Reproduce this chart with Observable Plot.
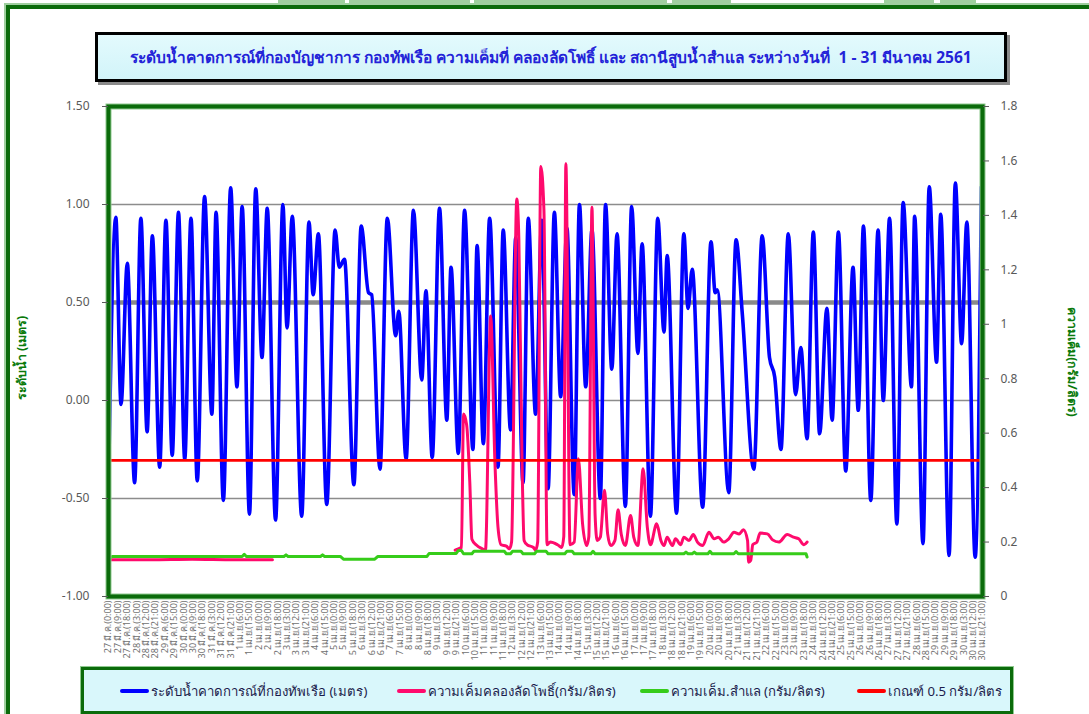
<!DOCTYPE html>
<html><head><meta charset="utf-8">
<script src="https://cdn.jsdelivr.net/npm/d3@7"></script>
<script src="https://cdn.jsdelivr.net/npm/@observablehq/plot@0.6"></script>
<style>
html,body{margin:0;padding:0;background:#fff;}
body{width:1089px;height:714px;overflow:hidden;position:relative;font-family:Tahoma,"Noto Sans","DejaVu Sans",sans-serif;}
#chart{position:absolute;left:0;top:0;}
.box{position:absolute;box-sizing:border-box;}
#outer{left:6px;top:5px;width:1200px;height:900px;border:4px solid #0b6b0b;box-shadow:-2px -2px 0 #9fcf9f;}
#title{left:95px;top:32px;width:912px;height:50px;border:3px solid #000;box-shadow:3px 3px 0 #8a8a8a;background:linear-gradient(#e3fafd,#d2f4f9);
  color:#2323d8;font-weight:bold;font-size:15.5px;display:flex;align-items:center;justify-content:center;}
#legend{left:81px;top:667px;width:932px;height:47px;border:3px solid #0b6b0b;box-shadow:0 0 0 1px #8fc98f;background:#d9f7fb;}
.item{position:absolute;top:12px;font-size:13.2px;color:#1c1c4c;white-space:nowrap;line-height:18px;}
.sw{display:inline-block;width:29px;height:4px;border-radius:2px;vertical-align:middle;margin-right:2px;position:relative;top:-1px;}
.ytitle{position:absolute;color:#0b7a0b;font-weight:bold;font-size:12.5px;white-space:nowrap;}
.strip{position:absolute;top:0;height:5px;background:#9fcf9f;}
</style></head><body>
<div class="strip" style="left:278px;width:67px"></div>
<div class="strip" style="left:349px;width:121px"></div>
<div class="strip" style="left:474px;width:193px"></div>
<div class="strip" style="left:672px;width:59px"></div>
<div class="strip" style="left:735px;width:147px;top:3px;height:2px"></div>
<div class="strip" style="left:884px;width:50px"></div>
<div class="strip" style="left:940px;width:36px"></div>
<div class="strip" style="left:979px;width:26px;top:3px;height:2px"></div>
<div class="strip" style="left:1009px;width:80px;top:3px;height:2px"></div>
<div id="outer" class="box"></div>
<div id="chart"></div>
<div id="title" class="box">ระดับน้ำคาดการณ์ที่กองบัญชาการ กองทัพเรือ ความเค็มที่ คลองลัดโพธิ์ และ สถานีสูบน้ำสำแล ระหว่างวันที่&nbsp; 1 - 31 มีนาคม 2561</div>
<div id="legend" class="box"></div>
<div class="ytitle" id="ylt" style="left:22px;top:358px;transform:translate(-50%,-50%) rotate(-90deg);">ระดับน้ำ (เมตร)</div>
<div class="ytitle" id="yrt" style="left:1072px;top:362px;transform:translate(-50%,-50%) rotate(90deg);">ความเค็ม(กรัม/ลิตร)</div>
<script>
// ---- data (hours from 27 มี.ค. 0:00) ----
const blueHours = [0,7,12,18,25,31,37,42,49,55,61,67,73,79,85,92,99,103,110,117,123,128,135,141,147,152,160,167,171,176,185,192,196,201,209,217,221,226,235,242,249,252,260,267,275,278,285,292,300,304,310,317,324,328,335,341,349,353,359,365,373,378,385,390,397,402,409,415,421,427,433,439,446,451,457,463,471,476,482,487,495,501,507,511,519,526,532,535,544,551,555,559,569,577,581,583,594,601,607,618,626,633,638,644,651,658,663,669,675,681,688,693,699,706,713,718,723,730,737,742,748,755,761,769,772,780,786,793,797,805,811,817,822,830,836];
const blueLevel = [-0.43,0.935,-0.02,0.70,-0.42,0.93,-0.16,0.84,-0.34,0.92,-0.28,0.96,-0.30,0.93,-0.41,1.04,-0.07,0.96,-0.51,1.085,0.07,0.99,-0.58,1.08,0.22,0.98,-0.61,1.00,0.37,0.94,-0.59,0.91,0.54,0.85,-0.53,0.87,0.68,0.72,-0.43,0.89,0.55,0.54,-0.35,0.93,0.33,0.455,-0.30,0.97,0.105,0.56,-0.29,0.98,-0.10,0.68,-0.27,0.97,-0.25,0.79,-0.22,0.93,-0.34,0.87,-0.15,0.83,-0.42,0.93,-0.07,0.92,-0.45,0.96,0.02,0.88,-0.48,1.00,0.07,0.87,-0.50,1.00,0.16,0.85,-0.54,0.99,0.24,0.80,-0.59,0.93,0.35,0.74,-0.575,0.85,0.47,0.67,-0.545,0.81,0.55,0.565,-0.47,0.82,0.44,-0.35,0.84,0.22,0.12,-0.25,0.85,0.03,0.27,-0.195,0.86,-0.17,0.47,-0.10,0.86,-0.36,0.68,-0.05,0.89,-0.51,0.87,0.0,0.93,-0.63,1.01,0.07,0.94,-0.73,1.09,0.195,0.95,-0.79,1.11,0.29,0.91,-0.80,1.09];

const pinkHours = [0,40,80,120,157,158,332,335,338,340,343,346,348,352,358,361,366,370,373,376,381,384,386,391,393,396,398,401,407,409,411,414,417,420,423,430,434,436,438,442,446,450,454,458,460,463,466,468,471,475,478,481,485,488,491,495,500,503,507,512,516,519,525,529,532,535,540,543,548,551,556,560,564,569,575,580,584,589,594,599,604,608,612,613,615,617,621,624,631,636,642,650,656,661,666,669];
const pinkSalt = [0.135,0.135,0.137,0.135,0.135,null,0.17,0.175,0.18,0.67,0.63,0.42,0.21,0.19,0.175,0.17,1.03,0.5,0.255,0.19,0.185,0.175,0.2,1.46,1.31,0.5,0.206,0.19,0.18,0.17,0.2,1.58,1.42,0.19,0.20,0.19,0.18,0.22,1.59,0.19,0.2,0.506,0.267,0.187,0.22,1.43,0.3,0.206,0.218,0.39,0.23,0.187,0.206,0.319,0.23,0.187,0.298,0.218,0.187,0.469,0.255,0.19,0.267,0.206,0.187,0.218,0.187,0.212,0.19,0.218,0.206,0.228,0.20,0.187,0.236,0.212,0.218,0.20,0.212,0.236,0.23,0.245,0.206,0.126,0.132,0.19,0.20,0.233,0.23,0.208,0.20,0.228,0.218,0.212,0.19,0.20];

const greenHours = [0,4,128,130,132,168,170,172,203,205,207,222,225,255,258,305,307,333,335,338,340,348,350,379,381,385,387,395,397,408,410,419,421,437,439,444,446,462,464,466,551,553,555,559,561,563,574,576,578,599,601,603,668,669];
const greenSalt = [0.14,0.147,0.147,0.155,0.147,0.147,0.153,0.147,0.147,0.153,0.147,0.147,0.137,0.137,0.147,0.147,0.158,0.158,0.169,0.169,0.157,0.157,0.166,0.166,0.157,0.157,0.166,0.166,0.157,0.157,0.166,0.166,0.157,0.157,0.166,0.166,0.157,0.157,0.166,0.157,0.157,0.163,0.157,0.157,0.163,0.157,0.157,0.166,0.157,0.157,0.165,0.157,0.157,0.145];

const threshold = 0.5;          // เกณฑ์ 0.5 กรัม/ลิตร (right axis)
const refLevel = 0.5;           // thick grey line (left axis)
const leftTicks = [-1, -0.5, 0, 0.5, 1, 1.5];
const rightTicks = [0, 0.2, 0.4, 0.6, 0.8, 1, 1.2, 1.4, 1.6, 1.8];
const gridLevels = [-0.5, 0, 1];

const tickHours = d3.range(0, 838, 9);
const tickLabels = tickHours.map(h => {
  const day = Math.floor(h / 24), hr = h % 24;
  const date = day < 5 ? `${27 + day} มี.ค.` : `${day - 4} เม.ย.`;
  return `${date}(${hr}:00)`;
});

const legendItems = [
  {label: "ระดับน้ำคาดการณ์ที่กองทัพเรือ (เมตร)", color: "#0000ff", left: 36},
  {label: "ความเค็มคลองลัดโพธิ์(กรัม/ลิตร)", color: "#ff0a6c", left: 313},
  {label: "ความเค็ม.สำแล (กรัม/ลิตร)", color: "#36cc1a", left: 556},
  {label: "เกณฑ์ 0.5 กรัม/ลิตร", color: "#ff0000", left: 773}
];

// ---- secondary axis mapping ----
const L0 = -1, L1 = 1.5, R0 = 0, R1 = 1.8;
const toLeft = r => L0 + (r - R0) * (L1 - L0) / (R1 - R0);
const toRight = l => R0 + (l - L0) * (R1 - R0) / (L1 - L0);

const blue = blueHours.map((h, i) => ({h, v: blueLevel[i]}));
const pink = pinkHours.map((h, i) => ({h, v: pinkSalt[i] == null ? NaN : toLeft(pinkSalt[i])}));
const green = greenHours.map((h, i) => ({h, v: toLeft(greenSalt[i])}));

const plot = Plot.plot({
  width: 1089, height: 714,
  marginLeft: 108, marginRight: 107, marginTop: 106, marginBottom: 118,
  style: {fontFamily: "Tahoma, 'Noto Sans', 'DejaVu Sans', sans-serif", background: "transparent", overflow: "visible"},
  x: {domain: [0, 837]},
  y: {domain: [L0, L1]},
  marks: [
    Plot.ruleY(gridLevels, {stroke: "#8c8c8c", strokeWidth: 1.4}),
    Plot.ruleY([refLevel], {stroke: "#8a8a8a", strokeWidth: 4.5}),
    Plot.line(blue, {x: "h", y: "v", stroke: "#0000ff", strokeWidth: 3.6, curve: "monotone-x"}),
    Plot.line(pink, {x: "h", y: "v", stroke: "#ff0a6c", strokeWidth: 3, curve: "monotone-x"}),
    Plot.line(green, {x: "h", y: "v", stroke: "#36cc1a", strokeWidth: 3, curve: "linear"}),
    Plot.ruleY([toLeft(threshold)], {stroke: "#ff0000", strokeWidth: 2.6}),
    Plot.frame({stroke: "#8fc98f", strokeWidth: 6}),
    Plot.frame({stroke: "#0b6b0b", strokeWidth: 4}),
    Plot.axisY({anchor: "left", ticks: leftTicks, tickFormat: d => d.toFixed(2), tickSize: 6, tickPadding: 13, fontSize: 12, color: "#595959", label: null}),
    Plot.axisY({anchor: "right", ticks: rightTicks.map(toLeft), tickFormat: d => String(+toRight(d).toFixed(1)), tickSize: 6, tickPadding: 12, fontSize: 12, color: "#595959", label: null}),
    Plot.axisX({ticks: tickHours, tickFormat: (d) => tickLabels[tickHours.indexOf(d)], tickRotate: -90, tickSize: 0, tickPadding: 4, fontSize: 9, color: "#707070", label: null})
  ]
});
document.getElementById("chart").appendChild(plot);

const lg = document.getElementById("legend");
for (const it of legendItems) {
  const d = document.createElement("div");
  d.className = "item";
  d.style.left = it.left + "px";
  d.innerHTML = `<span class="sw" style="background:${it.color}"></span>${it.label}`;
  lg.appendChild(d);
}
</script>
</body></html>
